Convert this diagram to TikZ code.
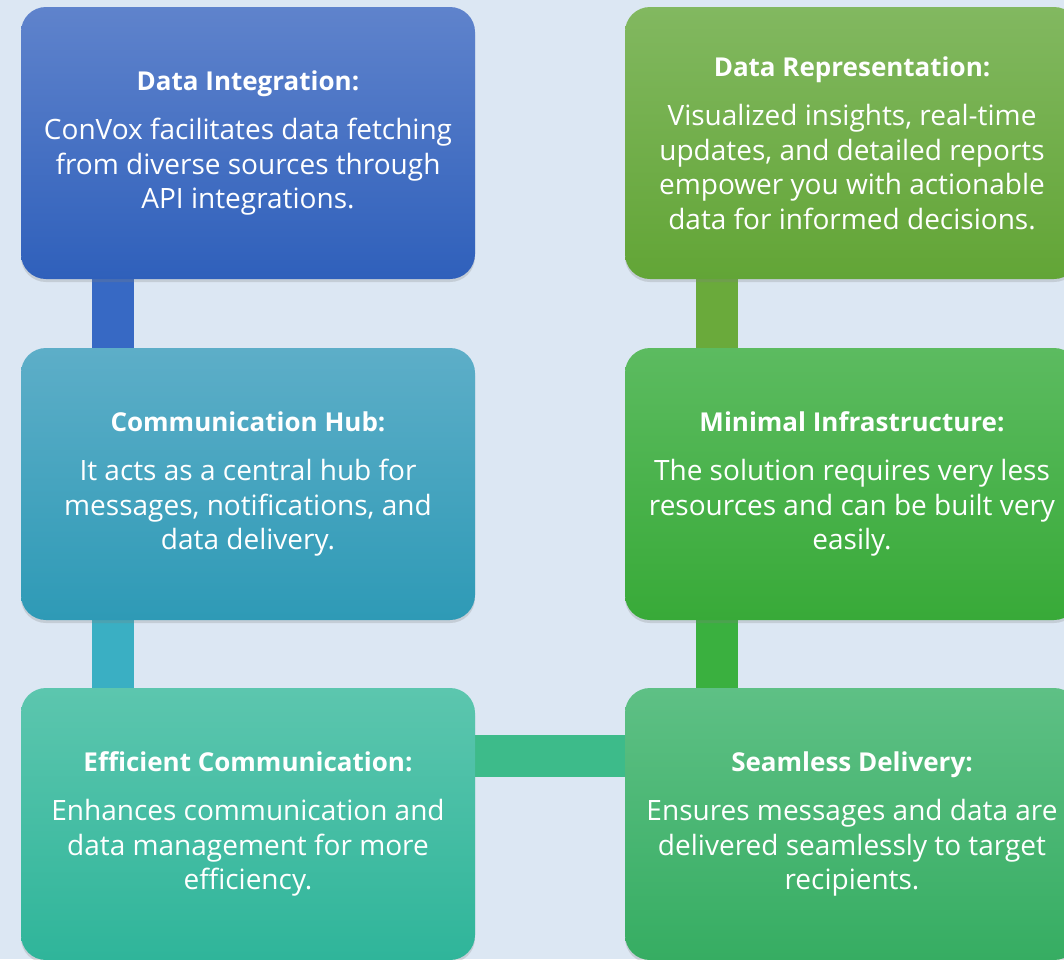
\documentclass[tikz,border=0pt]{standalone}
\usepackage{fontspec}
\setmainfont{Open Sans}
\usetikzlibrary{shadows}

\pgfdeclarelayer{back}
\pgfsetlayers{back,main}

\definecolor{bgblue}{HTML}{DCE7F3}
\definecolor{integTop}{HTML}{5F83CC}
\definecolor{integBot}{HTML}{2F60BB}
\definecolor{hubTop}{HTML}{5DAEC8}
\definecolor{hubBot}{HTML}{2E9AB6}
\definecolor{effTop}{HTML}{5CC6AE}
\definecolor{effBot}{HTML}{2FB59A}
\definecolor{reprTop}{HTML}{82B860}
\definecolor{reprBot}{HTML}{62A536}
\definecolor{infraTop}{HTML}{5CBB60}
\definecolor{infraBot}{HTML}{38AA38}
\definecolor{seamTop}{HTML}{5EC085}
\definecolor{seamBot}{HTML}{36AD62}
\definecolor{linkA}{HTML}{3769C4}
\definecolor{linkB}{HTML}{3AAFC3}
\definecolor{linkC}{HTML}{6AAA3B}
\definecolor{linkD}{HTML}{3AB03F}
\definecolor{linkE}{HTML}{3DBB8A}

\newcommand{\cardhead}[1]{{\fontsize{26pt}{30pt}\selectfont\bfseries #1}\\[15pt]}

\tikzset{
  card/.style={rounded corners=25pt, minimum width=454pt, minimum height=272pt,
    inner sep=0pt, align=center, text=white,
    font=\fontsize{28pt}{34.5pt}\selectfont,
    drop shadow={shadow xshift=0pt, shadow yshift=-3pt, opacity=0.25}},
  link/.style={line width=42pt},
}

\begin{document}
\begin{tikzpicture}[x=1pt, y=-1pt]
            \useasboundingbox (0,0) rectangle (1064,959);

            \node[card, top color=integTop, bottom color=integBot] (integ) at (248, 143)
              {\cardhead{Data Integration:}ConVox facilitates data fetching\\from diverse sources through\\API integrations.};
            \node[card, top color=hubTop, bottom color=hubBot] (hub) at (248, 484)
              {\cardhead{Communication Hub:}It acts as a central hub for\\messages, notifications, and\\data delivery.};
            \node[card, top color=effTop, bottom color=effBot] (effcom) at (248, 824)
              {\cardhead{Efficient Communication:}Enhances communication and\\data management for more\\efficiency.};

            \node[card, top color=reprTop, bottom color=reprBot] (repr) at (852, 143)
              {\cardhead{Data Representation:}Visualized insights, real-time\\updates, and detailed reports\\empower you with actionable\\data for informed decisions.};
            \node[card, top color=infraTop, bottom color=infraBot] (infra) at (852, 484)
              {\cardhead{Minimal Infrastructure:}The solution requires very less\\resources and can be built very\\easily.};
            \node[card, top color=seamTop, bottom color=seamBot] (seam) at (852, 824)
              {\cardhead{Seamless Delivery:}Ensures messages and data are\\delivered seamlessly to target\\recipients.};

            \begin{pgfonlayer}{back}
              \fill[bgblue] (0,0) rectangle (1064,959);
              \draw[link, linkA] ([xshift=92pt]integ.south west) -- ([xshift=92pt]hub.north west);
              \draw[link, linkB] ([xshift=92pt]hub.south west) -- ([xshift=92pt]effcom.north west);
              \draw[link, linkC] ([xshift=92pt]repr.south west) -- ([xshift=92pt]infra.north west);
              \draw[link, linkD] ([xshift=92pt]infra.south west) -- ([xshift=92pt]seam.north west);
              \draw[link, linkE] ([yshift=-68pt]effcom.north east) -- ([yshift=-68pt]seam.north west);
            \end{pgfonlayer}
        \end{tikzpicture}
\end{document}
